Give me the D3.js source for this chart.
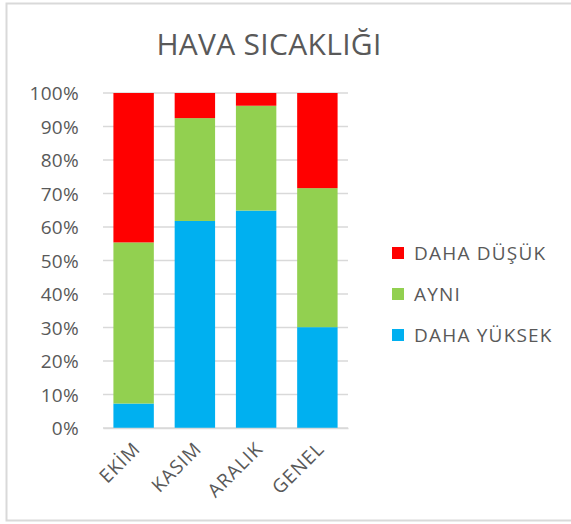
<!DOCTYPE html>
<html>
<head>
<meta charset="utf-8">
<script src="https://cdn.jsdelivr.net/npm/d3@7"></script>
<style>
  body { margin: 0; background: #fff; }
  svg text { font-family: "Open Sans", "Noto Sans", sans-serif; fill: #595959; }
</style>
</head>
<body>
<div id="chart-area"></div>
<script>
// categories and series (percent of each month)
var months = ["EKİM", "KASIM", "ARALIK", "GENEL"];
var seriesNames = ["DAHA YÜKSEK", "AYNI", "DAHA DÜŞÜK"];
var higher = [7.3, 61.8, 64.9, 30.1];
var same = [48.1, 30.7, 31.3, 41.5];
var lower = [44.6, 7.5, 3.8, 28.4];
var yTicks = [0, 10, 20, 30, 40, 50, 60, 70, 80, 90, 100];
var colors = ["#00b0f0", "#92d050", "#ff0000"];

var width = 571, height = 524;

var svg = d3.select("#chart-area")
  .append("svg")
    .attr("width", width)
    .attr("height", height);

// chart border
svg.append("rect")
  .attr("x", 6.5).attr("y", 3.5)
  .attr("width", 580).attr("height", 517)
  .attr("fill", "#fff")
  .attr("stroke", "#d9d9d9")
  .attr("stroke-width", 2);

svg.append("text")
  .attr("x", 269)
  .attr("y", 55)
  .attr("text-anchor", "middle")
  .style("font-size", "30px")
  .style("letter-spacing", "0.3px")
  .text("HAVA SICAKLIĞI");

var table = months.map(function(m, i) {
  return { month: m, "DAHA YÜKSEK": higher[i], "AYNI": same[i], "DAHA DÜŞÜK": lower[i] };
});

var stack = d3.stack().keys(seriesNames)(table);

var x = d3.scaleBand()
  .domain(months)
  .range([103, 348])
  .paddingInner(0.34)
  .paddingOuter(0.17);

var y = d3.scaleLinear()
  .domain([0, 100])
  .range([428, 93]);

// gridlines
svg.append("g")
  .selectAll("line")
  .data(yTicks)
  .enter()
  .append("line")
    .attr("x1", 103)
    .attr("x2", 348)
    .attr("y1", function(d) { return y(d); })
    .attr("y2", function(d) { return y(d); })
    .attr("stroke", "#d9d9d9")
    .attr("stroke-width", 1.3);

// y axis labels
var yAxis = svg.append("g")
  .attr("transform", "translate(103,0)")
  .call(d3.axisLeft(y).tickValues(yTicks).tickSize(0).tickPadding(24)
    .tickFormat(function(d) { return d + "%"; }));
yAxis.select(".domain").remove();
yAxis.selectAll("text")
  .style("font-size", "19px")
  .style("letter-spacing", "0.3px")
  .attr("dy", "0.35em");

// bars
svg.append("g")
  .selectAll("g")
  .data(stack)
  .enter()
  .append("g")
    .attr("fill", function(d, i) { return colors[i]; })
  .selectAll("rect")
  .data(function(d) { return d; })
  .enter()
  .append("rect")
    .attr("x", function(d) { return x(d.data.month); })
    .attr("y", function(d) { return y(d[1]); })
    .attr("height", function(d) { return y(d[0]) - y(d[1]); })
    .attr("width", x.bandwidth());

// x axis labels, rotated
var xAxis = svg.append("g")
  .attr("transform", "translate(0,428)")
  .call(d3.axisBottom(x).tickSize(0).tickPadding(0));
xAxis.select(".domain").attr("stroke", "#d9d9d9").attr("stroke-width", 1.3);
xAxis.selectAll("text")
  .style("font-size", "19px")
  .style("letter-spacing", "1px")
  .style("text-anchor", "end")
  .attr("dy", null)
  .attr("y", 0)
  .attr("transform", "translate(8,22)rotate(-45)");

// legend
var legendNames = seriesNames.slice().reverse();
var legendColors = colors.slice().reverse();
var legend = svg.append("g")
  .selectAll("g")
  .data(legendNames)
  .enter()
  .append("g")
    .attr("transform", function(d, i) { return "translate(392," + (253 + i * 41) + ")"; });

legend.append("rect")
  .attr("x", 0).attr("y", -6)
  .attr("width", 12).attr("height", 12)
  .attr("fill", function(d, i) { return legendColors[i]; });

legend.append("text")
  .attr("x", 22)
  .attr("y", 0)
  .attr("dy", "0.35em")
  .style("font-size", "19px")
  .style("letter-spacing", "1.2px")
  .text(function(d) { return d; });
</script>
</body>
</html>
